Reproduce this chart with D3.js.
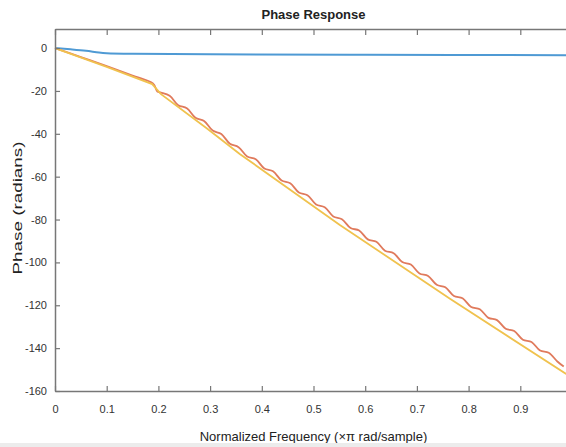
<!DOCTYPE html>
<html>
<head>
<meta charset="utf-8">
<script src="https://cdn.jsdelivr.net/npm/d3@7"></script>
<style>
  body { margin: 0; background: #fff; }
  svg { display: block; }
  .tick text { font-family: "Liberation Sans", Arial, sans-serif; font-size: 11px; fill: #333; }
  .lbl { font-family: "Liberation Sans", Arial, sans-serif; fill: #222; }
</style>
</head>
<body>
<svg id="chart" width="566" height="447"></svg>
<script>
// phase response curves, frequency in x pi rad/sample, phase in radians
var blueFreq  = [0, 0.03, 0.06, 0.085, 0.1, 0.15, 0.3, 0.6, 1];
var bluePhase = [0, -0.6, -1.3, -2.1, -2.4, -2.7, -2.9, -3.1, -3.3];

var yellowFreq  = [0, 0.1, 0.188, 0.205, 0.294, 0.358, 0.551, 0.764, 0.988, 1];
var yellowPhase = [0, -8.8, -16.8, -21.5, -37.5, -49.5, -82.5, -117, -151.9, -153.8];

var redFreq = [0, 0.05, 0.1, 0.15, 0.186, 0.192, 0.198,
  0.205, 0.2217, 0.2383, 0.255, 0.2717, 0.2883, 0.305, 0.3217, 0.3383, 0.355,
  0.3717, 0.3883, 0.405, 0.4217, 0.4383, 0.455, 0.4717, 0.4883, 0.505, 0.5217,
  0.5383, 0.555, 0.5717, 0.5883, 0.605, 0.6217, 0.6383, 0.655, 0.6717, 0.6883,
  0.705, 0.7217, 0.7383, 0.755, 0.7717, 0.7883, 0.805, 0.8217, 0.8383, 0.855,
  0.8717, 0.8883, 0.905, 0.9217, 0.9383, 0.955, 0.9717, 0.984];
var redPhase = [0, -4.2, -8.4, -12.8, -16.0, -17.2, -20.3,
  -20.75, -22.2, -26.64, -28.09, -32.53, -33.97, -38.5, -40.08, -44.65, -46.23,
  -50.57, -51.86, -56.17, -57.47, -61.76, -63.07, -67.36, -68.65, -72.96, -74.26,
  -78.55, -79.82, -83.96, -85.1, -89.26, -90.41, -94.55, -95.71, -99.85, -100.99,
  -105.15, -106.3, -110.44, -111.6, -115.69, -116.73, -120.78, -121.83, -125.87, -126.92,
  -130.96, -132.0, -136.05, -137.1, -141.14, -142.19, -146.23, -148.6];

var xTicks = [0, 0.1, 0.2, 0.3, 0.4, 0.5, 0.6, 0.7, 0.8, 0.9];
var yTicks = [0, -20, -40, -60, -80, -100, -120, -140, -160];

var svg = d3.select('#chart');
var mLeft = 55, mRight = 572, mTop = 29, mBottom = 391;

var x = d3.scaleLinear().domain([0, 1]).range([mLeft, mRight]);
var y = d3.scaleLinear().domain([-160, 8.9]).range([mBottom, mTop]);

function zip(fs, ps) {
	return fs.map(function(f, i){ return [f, ps[i]]; });
}

var line = d3.line()
	.curve(d3.curveCatmullRom)
	.x(function(d){ return x(d[0]); })
	.y(function(d){ return y(d[1]); });

var straight = d3.line()
	.x(function(d){ return x(d[0]); })
	.y(function(d){ return y(d[1]); });

var plot = svg.append('g');
plot.append('path').attr('d', line(zip(blueFreq, bluePhase)))
	.attr('fill', 'none').attr('stroke', '#4f9ad4').attr('stroke-width', 2);
plot.append('path').attr('d', line(zip(redFreq, redPhase)))
	.attr('fill', 'none').attr('stroke', '#e07a5c').attr('stroke-width', 1.8);
plot.append('path').attr('d', straight(zip(yellowFreq, yellowPhase)))
	.attr('fill', 'none').attr('stroke', '#f0c24e').attr('stroke-width', 1.8);

// axes, ticks pointing inward like matlab
var axColor = '#777';
var xAxis = svg.append('g').attr('transform', 'translate(0,' + mBottom + ')')
	.call(d3.axisBottom(x).tickValues(xTicks).tickSizeInner(-5).tickSizeOuter(0).tickPadding(14)
		.tickFormat(function(d){ return d === 0 ? '0' : d.toFixed(1); }));
var xTop = svg.append('g').attr('transform', 'translate(0,' + mTop + ')')
	.call(d3.axisTop(x).tickValues(xTicks).tickSizeInner(-6).tickSizeOuter(0).tickFormat(''));
var yAxis = svg.append('g').attr('transform', 'translate(' + mLeft + ',0)')
	.call(d3.axisLeft(y).tickValues(yTicks).tickSizeInner(-5).tickSizeOuter(0).tickPadding(8)
		.tickFormat(function(d){ return String(d); }));

[xAxis, xTop, yAxis].forEach(function(g){
	g.select('.domain').attr('stroke', axColor).attr('stroke-width', 1.5);
	g.selectAll('.tick line').attr('stroke', axColor).attr('stroke-width', 1.2);
});

svg.append('text').attr('class', 'lbl')
	.attr('x', (mLeft + mRight) / 2).attr('y', 19)
	.attr('text-anchor', 'middle').style('font-size', '13px').style('font-weight', 'bold')
	.text('Phase Response');

svg.append('text').attr('class', 'lbl')
	.attr('x', (mLeft + mRight) / 2).attr('y', 441)
	.attr('text-anchor', 'middle').style('font-size', '13px')
	.text('Normalized Frequency (\u00d7\u03c0 rad/sample)');

// the capture is stretched vertically, so the rotated label reads long
svg.append('text').attr('class', 'lbl')
	.attr('transform', 'translate(22,208) rotate(-90) scale(1.45,1)')
	.attr('text-anchor', 'middle').style('font-size', '13px')
	.text('Phase (radians)');

// light strip at the bottom of the capture
svg.append('rect').attr('x', 0).attr('y', 443).attr('width', 566).attr('height', 4).attr('fill', '#ececec');
</script>
</body>
</html>
